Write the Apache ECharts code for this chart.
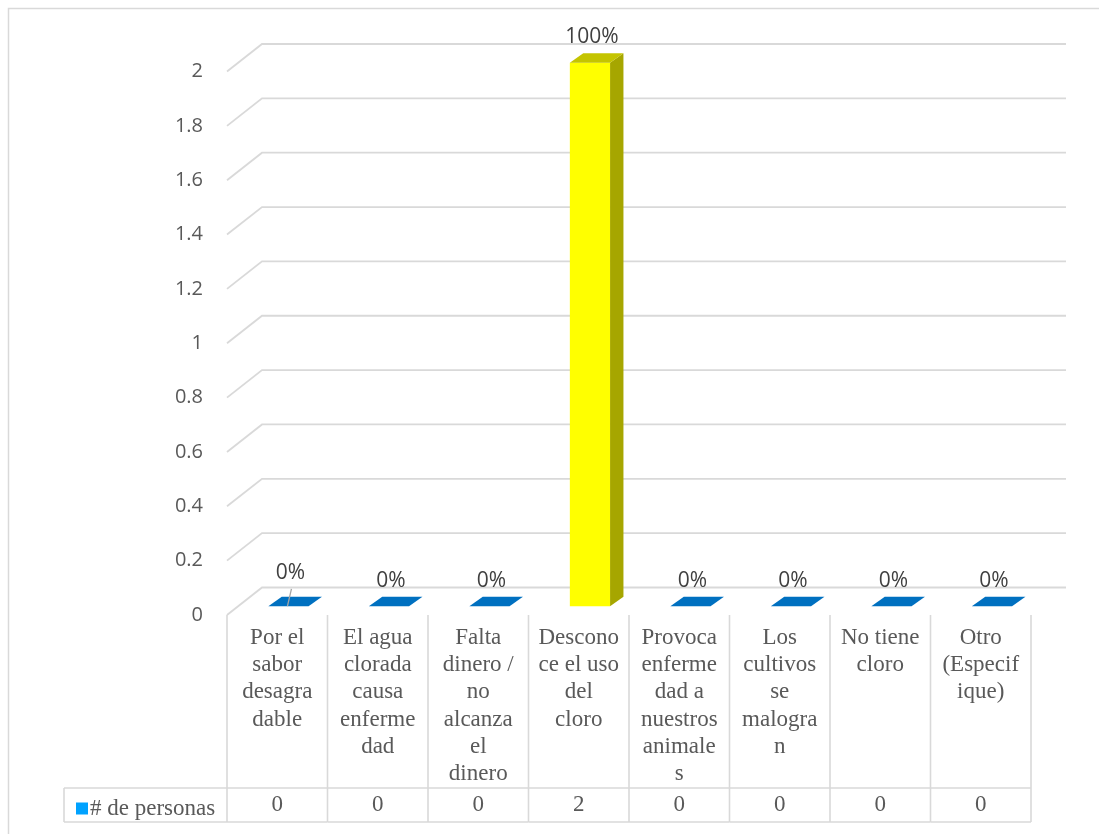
<!DOCTYPE html>
<html>
<head>
<meta charset="utf-8">
<script src="https://cdn.jsdelivr.net/npm/echarts@6/dist/echarts.min.js"></script>
<style>
  html, body { margin: 0; padding: 0; background: #ffffff; }
  #chart { width: 1099px; height: 834px; }
</style>
</head>
<body>
<div id="chart"></div>
<script>
// Reasons given for not chlorinating the water (respondent counts)
const categories = [
  'Por el\nsabor\ndesagra\ndable',
  'El agua\nclorada\ncausa\nenferme\ndad',
  'Falta\ndinero /\nno\nalcanza\nel\ndinero',
  'Descono\nce el uso\ndel\ncloro',
  'Provoca\nenferme\ndad a\nnuestros\nanimale\ns',
  'Los\ncultivos\nse\nmalogra\nn',
  'No tiene\ncloro',
  'Otro\n(Especif\nique)'
];
const personas = [0, 0, 0, 2, 0, 0, 0, 0];
const yTicks = [0, 0.2, 0.4, 0.6, 0.8, 1, 1.2, 1.4, 1.6, 1.8, 2];
const seriesName = '# de personas';

// Share of each answer in the total, shown above the columns
const total = personas.reduce((a, b) => a + b, 0);
const percentLabels = personas.map(v => Math.round(total ? v / total * 100 : 0) + '%');

// Pseudo-3D geometry (pixel offsets of the back wall and of the column prism)
const WALL_DX = 35, WALL_DY = -27.5;
const BAR_FRONT = [11.2, -8.8];
const BAR_BACK = [24.6, -18.2];
const BAR_RATIO = 0.4;
const ROW_SPLIT = 173;   // distance from floor edge to the values row
const TABLE_BOTTOM = 207;
const HEADER_LEFT = 64;

const GRID_COLOR = '#D9D9D9';
const TEXT_COLOR = '#595959';
const LABEL_COLOR = '#404040';
const SANS = 'Open Sans';
const SERIF = 'Liberation Serif';

// Column styles: the "Desconoce" column is highlighted in yellow
const plainStyle = { front: '#0070C0', side: '#00528C', top: '#0070C0' };
const highlightStyle = { front: '#FFFF00', side: '#A6A600', top: '#C4C400' };
const styleFor = i => (i === 3 ? highlightStyle : plainStyle);

const chart = echarts.init(document.getElementById('chart'), null, { renderer: 'canvas' });

function renderWall(params, api) {
  const cs = params.coordSys;
  const y = api.coord([0, api.value(1)])[1];
  const x0 = cs.x, x1 = cs.x + cs.width;
  return {
    type: 'polyline',
    silent: true,
    shape: { points: [[x0, y], [x0 + WALL_DX, y + WALL_DY], [x1 + WALL_DX, y + WALL_DY]] },
    style: { stroke: GRID_COLOR, lineWidth: 1.8, fill: 'none' }
  };
}

function renderTable(params, api) {
  const cs = params.coordSys;
  const i = api.value(0);
  const c = api.coord([i, 0]);
  const band = api.size([1, 0])[0];
  const xl = c[0] - band / 2, xr = c[0] + band / 2;
  const floorY = cs.y + cs.height;
  const line = (x1, y1, x2, y2) => ({
    type: 'line', silent: true,
    shape: { x1, y1, x2, y2 },
    style: { stroke: GRID_COLOR, lineWidth: 1.6 }
  });
  const children = [
    line(xl, floorY, xl, floorY + TABLE_BOTTOM),
    line(xl, floorY + ROW_SPLIT, xr, floorY + ROW_SPLIT),
    line(xl, floorY + TABLE_BOTTOM, xr, floorY + TABLE_BOTTOM),
    {
      type: 'text', silent: true,
      style: {
        x: c[0], y: floorY + (ROW_SPLIT + TABLE_BOTTOM) / 2,
        text: String(personas[i]),
        align: 'center', verticalAlign: 'middle',
        fontFamily: SERIF, fontSize: 23, fill: TEXT_COLOR
      }
    }
  ];
  if (i === categories.length - 1) {
    children.push(line(xr, floorY, xr, floorY + TABLE_BOTTOM));
  }
  if (i === 0) {
    children.push(line(HEADER_LEFT, floorY + ROW_SPLIT, xl, floorY + ROW_SPLIT));
    children.push(line(HEADER_LEFT, floorY + TABLE_BOTTOM, xl, floorY + TABLE_BOTTOM));
    children.push(line(HEADER_LEFT, floorY + ROW_SPLIT, HEADER_LEFT, floorY + TABLE_BOTTOM));
  }
  return { type: 'group', children };
}

function renderColumn(params, api) {
  const i = api.value(0);
  const v = api.value(1);
  const base = api.coord([i, 0]);
  const top = api.coord([i, v]);
  const band = api.size([1, 0])[0];
  const w = band * BAR_RATIO;
  const st = styleFor(i);

  const xf = base[0] + BAR_FRONT[0] - w / 2;
  const xb = base[0] + BAR_BACK[0] - w / 2;
  const yBotF = base[1] + BAR_FRONT[1], yTopF = top[1] + BAR_FRONT[1];
  const yBotB = base[1] + BAR_BACK[1], yTopB = top[1] + BAR_BACK[1];

  const children = [];
  if (yBotF - yTopF > 0.5) {
    children.push({
      type: 'polygon', silent: true,
      shape: { points: [[xf + w, yTopF], [xb + w, yTopB], [xb + w, yBotB], [xf + w, yBotF]] },
      style: { fill: st.side }
    });
    children.push({
      type: 'rect', silent: true,
      shape: { x: xf, y: yTopF, width: w, height: yBotF - yTopF },
      style: { fill: st.front }
    });
  }
  children.push({
    type: 'polygon', silent: true,
    shape: { points: [[xf, yTopF], [xf + w, yTopF], [xb + w, yTopB], [xb, yTopB]] },
    style: { fill: st.top }
  });

  // value label; the first one sits a little higher with a leader line
  const lx = base[0] + BAR_FRONT[0] + 2;
  let ly = yTopB - 16;
  if (i === 0) {
    ly -= 8;
    children.push({
      type: 'line', silent: true,
      shape: { x1: lx + 1, y1: ly + 16, x2: lx - 3, y2: yBotF },
      style: { stroke: '#A6A6A6', lineWidth: 1.3 }
    });
  }
  children.push({
    type: 'text', silent: true,
    style: {
      x: lx, y: ly, text: percentLabels[i],
      align: 'center', verticalAlign: 'middle',
      fontFamily: SANS, fontSize: 21, fill: LABEL_COLOR
    }
  });
  return { type: 'group', children };
}

const option = {
  backgroundColor: '#ffffff',
  animation: false,
  graphic: [{
    type: 'rect',
    shape: { x: 8.5, y: 8.5, width: 1200, height: 1000 },
    style: { fill: 'none', stroke: GRID_COLOR, lineWidth: 1.5 },
    silent: true, z: -10
  }],
  legend: {
    data: [seriesName],
    left: 71,
    top: 792,
    icon: 'rect',
    itemWidth: 12,
    itemHeight: 12,
    itemGap: 4,
    selectedMode: false,
    textStyle: { fontFamily: SERIF, fontSize: 23, color: TEXT_COLOR, padding: [0, 0, 0, -3] }
  },
  grid: {
    left: 227,
    top: 71.5,
    width: 804,
    height: 543.5,
    outerBoundsMode: 'none'
  },
  xAxis: {
    type: 'category',
    data: categories,
    axisLine: { show: false },
    axisTick: { show: false },
    splitLine: { show: false },
    axisLabel: {
      interval: 0,
      margin: 9,
      fontFamily: SERIF,
      fontSize: 23,
      lineHeight: 27.3,
      color: TEXT_COLOR,
      align: 'center'
    }
  },
  yAxis: {
    type: 'value',
    min: 0,
    max: 2,
    interval: 0.2,
    axisLine: { show: false },
    axisTick: { show: false },
    splitLine: { show: false },
    axisLabel: {
      margin: 24,
      fontFamily: SANS,
      fontSize: 20,
      color: TEXT_COLOR,
      formatter: v => String(Math.round(v * 10) / 10)
    }
  },
  series: [
    {
      type: 'custom',
      name: 'wall',
      silent: true,
      renderItem: renderWall,
      data: yTicks.map(t => [0, t]),
      encode: { x: 0, y: 1 },
      z: 1
    },
    {
      type: 'custom',
      name: 'table',
      silent: true,
      renderItem: renderTable,
      data: categories.map((c, i) => [i, 0]),
      encode: { x: 0, y: 1 },
      z: 1
    },
    {
      type: 'custom',
      name: seriesName,
      renderItem: renderColumn,
      itemStyle: { color: '#00A2FF' },
      data: personas.map((v, i) => [i, v]),
      encode: { x: 0, y: 1 },
      z: 3
    }
  ]
};

chart.setOption(option);
</script>
</body>
</html>
